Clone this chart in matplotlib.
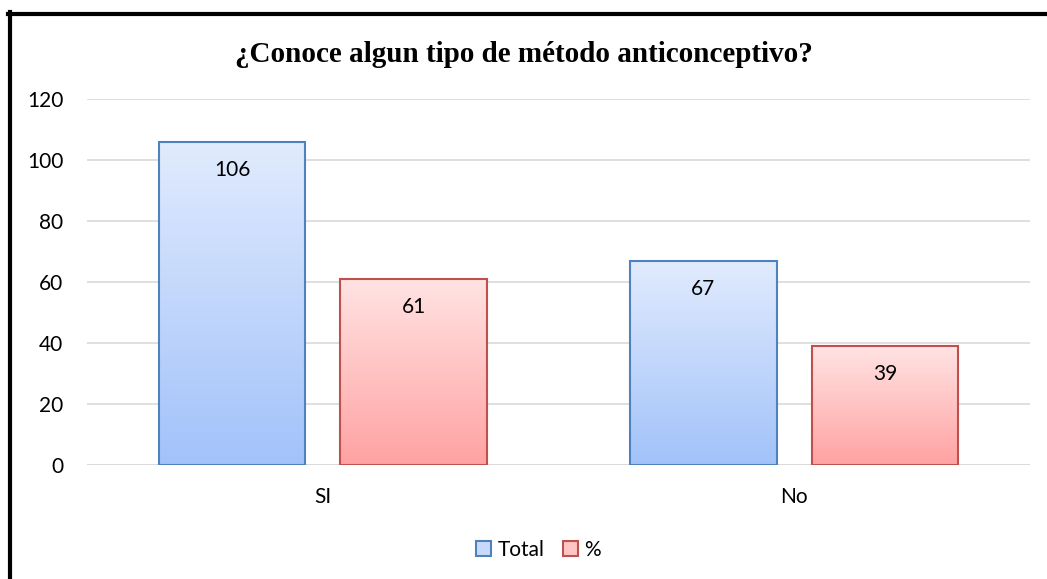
import matplotlib
matplotlib.use("Agg")
import matplotlib.pyplot as plt
import numpy as np
from matplotlib.patches import Patch
from matplotlib.lines import Line2D
from matplotlib.colors import LinearSegmentedColormap

categories = ["SI", "No"]
series_names = ["Total", "%"]
total_values = [106, 67]
pct_values = [61, 39]
yticks = [0, 20, 40, 60, 80, 100, 120]
title = "¿Conoce algun tipo de método anticonceptivo?"

W, H = 1047, 579
FONT = "Lato"
fig = plt.figure(figsize=(W / 100, H / 100), dpi=100)
ax = fig.add_axes([87 / W, 1 - 465 / H, (1030 - 87) / W, (465 - 99) / H])

x = np.arange(len(categories))
width = 0.31
offset = 0.1925

styles = [
    dict(edge="#4F81BD", top="#E1EBFD", bottom="#A2C2FA"),
    dict(edge="#C0504D", top="#FFE3E3", bottom="#FFA2A2"),
]

for i, (vals, st) in enumerate(zip([total_values, pct_values], styles)):
    pos = x + (-offset if i == 0 else offset)
    bars = ax.bar(pos, vals, width, facecolor="none", edgecolor=st["edge"], linewidth=1.5, zorder=3)
    cmap = LinearSegmentedColormap.from_list("g", [st["bottom"], st["top"]])
    grad = np.linspace(0, 1, 256).reshape(-1, 1)
    for b, v in zip(bars, vals):
        x0 = b.get_x()
        im = ax.imshow(grad, cmap=cmap, origin="lower", aspect="auto",
                       extent=[x0, x0 + b.get_width(), 0, v], zorder=2)
        im.set_clip_path(b)
        ax.text(b.get_x() + b.get_width() / 2, v - 9.3, str(v), ha="center", va="center",
                fontsize=15, family=FONT, color="black", zorder=4)

ax.set_xlim(-0.5, 1.5)
ax.set_ylim(0, 120)
ax.set_yticks(yticks)
ax.set_xticks(x)
ax.set_xticklabels(categories)
ax.grid(axis="y", color="#D9D9D9", linewidth=1.2, zorder=0)
ax.set_axisbelow(True)
for s in ax.spines.values():
    s.set_visible(False)
ax.tick_params(axis="both", length=0, labelsize=15)
ax.tick_params(axis="y", pad=17)
ax.tick_params(axis="x", pad=16)
for lab in ax.get_xticklabels() + ax.get_yticklabels():
    lab.set_family(FONT)
ax.axhline(0, color="#D9D9D9", linewidth=1.2, zorder=1)

fig.text(0.5, 1 - 55 / H, title, ha="center", va="center", fontsize=21,
         fontweight="bold", family="Liberation Serif")

handles = [Patch(facecolor="#C7DAFC", edgecolor="#4F81BD", linewidth=1.5),
           Patch(facecolor="#FFC4C4", edgecolor="#C0504D", linewidth=1.5)]
leg = fig.legend(handles, series_names, loc="center", bbox_to_anchor=(538.5 / W, 1 - 550 / H),
                 ncol=2, frameon=False, prop={"family": FONT, "size": 15},
                 handlelength=0.7, handleheight=0.7, handletextpad=0.3, columnspacing=0.9)

# black frame (top and left)
fig.add_artist(Line2D([8 / W, 1.0], [1 - 13.5 / H, 1 - 13.5 / H], color="black", linewidth=3,
                      transform=fig.transFigure))
fig.add_artist(Line2D([10 / W, 10 / W], [0, 1 - 12 / H], color="black", linewidth=3,
                      transform=fig.transFigure))

fig.savefig("out.png", dpi=100)
